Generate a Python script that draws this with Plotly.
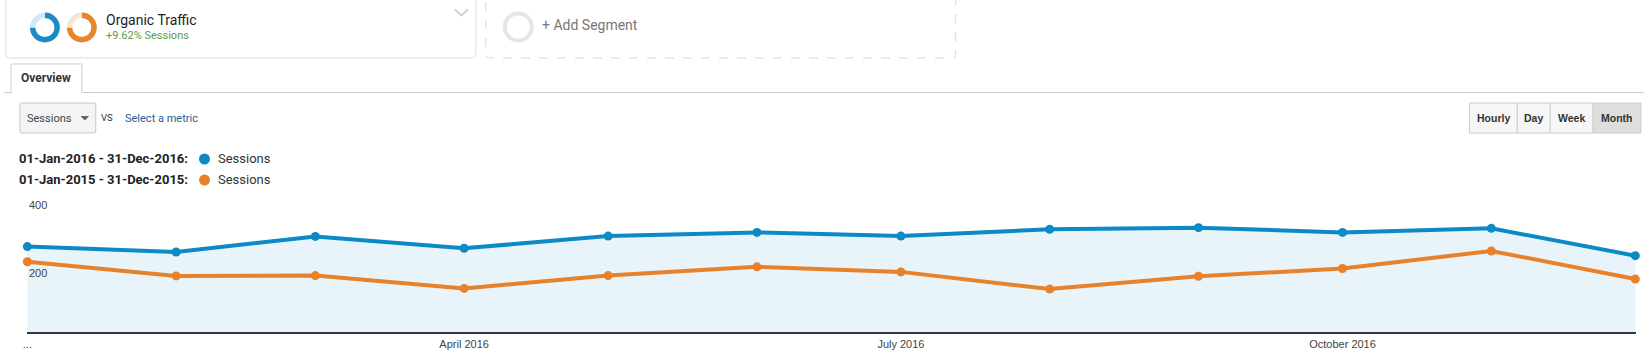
import plotly.graph_objects as go

# ---------------- data ----------------
months = ["2016-01-01", "2016-02-01", "2016-03-01", "2016-04-01", "2016-05-01", "2016-06-01",
          "2016-07-01", "2016-08-01", "2016-09-01", "2016-10-01", "2016-11-01", "2016-12-01"]
sessions_2016 = [254, 238, 284, 249, 285, 296, 285, 305, 310, 296, 308, 227]
sessions_2015 = [209, 167, 168, 130, 168, 194, 179, 128, 166, 189, 241, 158]
x_tick_vals = ["2016-01-01", "2016-04-01", "2016-07-01", "2016-10-01"]
x_tick_text = ["...", "April 2016", "July 2016", "October 2016"]
y_tick_vals = [200, 400]
y_tick_text = ["200", "400"]
range_2016 = "01-Jan-2016 - 31-Dec-2016:"
range_2015 = "01-Jan-2015 - 31-Dec-2015:"
metric_name = "Sessions"
segment_name = "Organic Traffic"
segment_change = "+9.62% Sessions"
buttons = ["Hourly", "Day", "Week", "Month"]

# ---------------- styling ----------------
W, H = 1644, 351
BLUE = "#0b8ac6"
ORANGE = "#e9812a"
FILL = "#e8f3fa"
UI_FONT = "Roboto, Arial, sans-serif"
AX_FONT = "Arial, Liberation Sans, sans-serif"


def X(px):
    return px / W


def Y(py):
    return 1 - py / H


def rect(x0, y0, x1, y1, line="#cccccc", fill="rgba(0,0,0,0)", width=1, dash="solid"):
    return dict(type="rect", xref="paper", yref="paper",
                x0=X(x0), x1=X(x1), y0=Y(y1), y1=Y(y0),
                line=dict(color=line, width=width, dash=dash), fillcolor=fill, layer="below")


def rrect(x0, y0, x1, y1, r=3, line="#cccccc", fill="rgba(0,0,0,0)", width=1, dash="solid"):
    pts = [(x0 + r, y0), (x1 - r, y0), "Q", (x1, y0), (x1, y0 + r), (x1, y1 - r), "Q", (x1, y1),
           (x1 - r, y1), (x0 + r, y1), "Q", (x0, y1), (x0, y1 - r), (x0, y0 + r), "Q", (x0, y0),
           (x0 + r, y0)]
    d = f"M {X(pts[0][0]):.6f},{Y(pts[0][1]):.6f}"
    i = 1
    while i < len(pts):
        p = pts[i]
        if p == "Q":
            c, e = pts[i + 1], pts[i + 2]
            d += f" Q {X(c[0]):.6f},{Y(c[1]):.6f} {X(e[0]):.6f},{Y(e[1]):.6f}"
            i += 3
        else:
            d += f" L {X(p[0]):.6f},{Y(p[1]):.6f}"
            i += 1
    d += " Z"
    return dict(type="path", xref="paper", yref="paper", path=d,
                line=dict(color=line, width=width, dash=dash), fillcolor=fill, layer="below")


def path(points, line="#cccccc", fill="rgba(0,0,0,0)", width=1, close=False):
    d = "M " + " L ".join(f"{X(a):.6f},{Y(b):.6f}" for a, b in points)
    if close:
        d += " Z"
    return dict(type="path", xref="paper", yref="paper", path=d,
                line=dict(color=line, width=width), fillcolor=fill, layer="below")


def circle(cx, cy, r, line="rgba(0,0,0,0)", fill="rgba(0,0,0,0)", width=0):
    return dict(type="circle", xref="paper", yref="paper",
                x0=X(cx - r), x1=X(cx + r), y0=Y(cy + r), y1=Y(cy - r),
                line=dict(color=line, width=width), fillcolor=fill, layer="above")


def text(x, y, s, size=12, color="#333333", bold=False, family=UI_FONT, anchor="left"):
    return dict(xref="paper", yref="paper", x=X(x), y=Y(y), text=(f"<b>{s}</b>" if bold else s),
                showarrow=False, xanchor=anchor, yanchor="middle",
                font=dict(size=size, color=color, family=family), borderpad=0, borderwidth=0)


fig = go.Figure()

fig.add_trace(go.Scatter(
    x=months, y=sessions_2016, mode="lines+markers", fill="tozeroy", fillcolor=FILL,
    line=dict(color=BLUE, width=4), marker=dict(color=BLUE, size=9),
    cliponaxis=False, showlegend=False, hoverinfo="skip"))
fig.add_trace(go.Scatter(
    x=months, y=sessions_2015, mode="lines+markers",
    line=dict(color=ORANGE, width=4), marker=dict(color=ORANGE, size=9),
    cliponaxis=False, showlegend=False, hoverinfo="skip"))

# segment donuts
for cx, dark, light in [(41, "#1a8bc4", "#d3e8f4"), (78, "#e8842c", "#f6e4d4")]:
    r = 15
    fig.add_trace(go.Pie(
        values=[75, 25], marker=dict(colors=[dark, light], line=dict(width=0)),
        hole=0.64, sort=False, direction="clockwise", rotation=0,
        textinfo="none", hoverinfo="skip", showlegend=False,
        domain=dict(x=[X(cx - r), X(cx + r)], y=[Y(27.5 + r), Y(27.5 - r)])))

shapes = []
# segment card
shapes.append(rrect(2, -6, 473, 58, r=3, line="#dddddd", fill="white"))
shapes.append(path([(452, 9.5), (458.5, 15.5), (465, 9.5)], line="#cfcfcf", width=2))
# add segment card
shapes.append(rrect(483, -6, 954, 58, r=3, line="#d8d8d8", fill="white", dash="dash"))
shapes.append(dict(type="circle", xref="paper", yref="paper",
                   x0=X(515.5 - 13.5), x1=X(515.5 + 13.5), y0=Y(27 + 13.5), y1=Y(27 - 13.5),
                   line=dict(color="#e6e6e6", width=4), fillcolor="rgba(0,0,0,0)", layer="below"))
# tab + separator line
shapes.append(path([(7, 92.5), (7, 64), (78, 64), (78, 92.5)], line="#cccccc", fill="white"))
shapes.append(path([(0, 92.5), (7, 92.5)], line="#cccccc"))
shapes.append(path([(78, 92.5), (1644, 92.5)], line="#cccccc"))
# metric dropdown
shapes.append(rrect(16, 103, 92, 133, r=2, line="#c8c8c8", fill="#f4f4f4"))
shapes.append(path([(77.5, 116.5), (84.5, 116.5), (81, 120)], line="#666666", fill="#666666", close=True))
# legend dots
shapes.append(circle(201, 159, 5.5, fill=BLUE))
shapes.append(circle(201, 180, 5.5, fill=ORANGE))
# buttons
btn_edges = [1469, 1517, 1550, 1593, 1641]
for i in range(4):
    fill = "#dedede" if i == 3 else "#f6f6f6"
    shapes.append(rect(btn_edges[i], 103, btn_edges[i + 1], 133, line="#cccccc", fill=fill))

annotations = [
    text(102, 19.5, segment_name, size=14, color="#222222"),
    text(102, 36, segment_change, size=11, color="#5e9b45"),
    text(539, 25.5, "+ Add Segment", size=14, color="#777777"),
    text(42.5, 78, "Overview", size=12, color="#333333", bold=True, anchor="center"),
    text(23.5, 118, metric_name, size=11, color="#444444"),
    text(97.5, 117.5, "VS", size=9.5, color="#333333"),
    text(121.5, 118, "Select a metric", size=11, color="#245f97"),
    text(15.5, 159, range_2016, size=13, color="#222222", bold=True),
    text(15.5, 180, range_2015, size=13, color="#222222", bold=True),
    text(214.5, 159, metric_name, size=13, color="#333333"),
    text(214.5, 180, metric_name, size=13, color="#333333"),
]
for i, b in enumerate(buttons):
    annotations.append(text((btn_edges[i] + btn_edges[i + 1]) / 2, 118, b, size=10.5,
                            color="#333333", bold=True, family=AX_FONT, anchor="center"))

# y-axis value labels placed on the y scale, just below each gridline (GA style)
for v, t in zip(y_tick_vals, y_tick_text):
    annotations.append(dict(xref="paper", yref="y", x=X(25.5), y=v, text=t, showarrow=False,
                            xanchor="left", yanchor="top", yshift=-2, borderpad=0, borderwidth=0,
                            font=dict(size=11, color="#444444", family=AX_FONT)))

fig.update_layout(
    width=W, height=H, margin=dict(l=0, r=0, t=0, b=0, pad=0),
    paper_bgcolor="white", plot_bgcolor="white",
    shapes=shapes, annotations=annotations,
    xaxis=dict(type="date", domain=[X(23), X(1635.7)],
               range=["2015-12-31 22:00", "2016-12-01 02:00"],
               tickvals=x_tick_vals, ticktext=x_tick_text, showgrid=False, zeroline=False,
               showline=True, linecolor="#2f3640", linewidth=2, ticks="",
               ticklabeloverflow="allow",
               tickfont=dict(size=11, color="#444444", family=AX_FONT)),
    yaxis=dict(domain=[Y(332.3), Y(196.6)], range=[0, 402], tickvals=y_tick_vals,
               showgrid=True, gridcolor="#e3e3e3", gridwidth=1,
               zeroline=False, showline=False, ticks="", showticklabels=False),
)

fig.write_html("out.html")
